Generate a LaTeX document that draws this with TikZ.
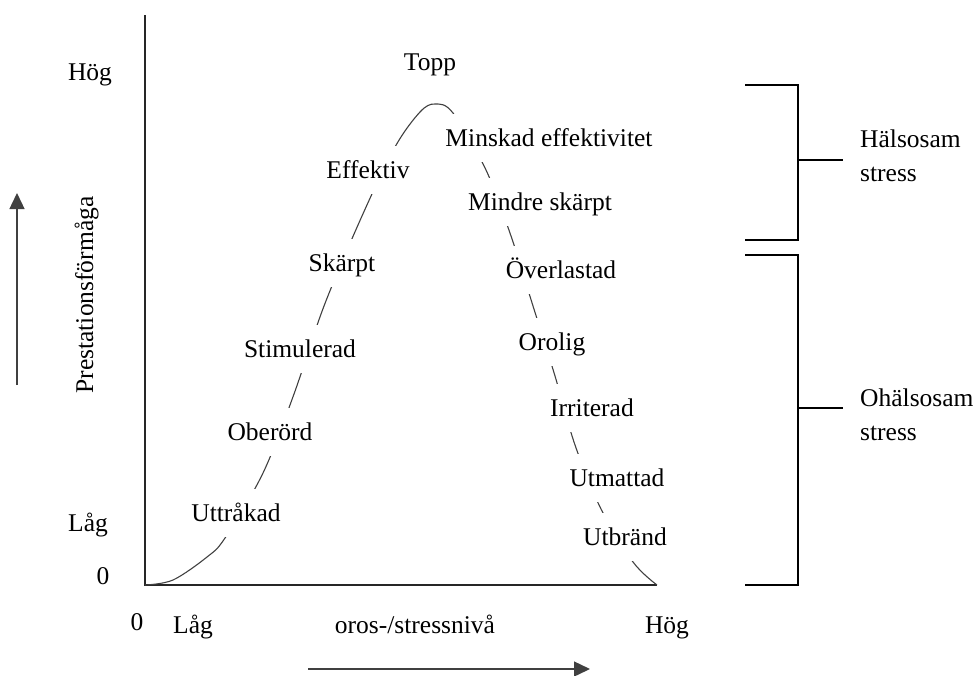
\documentclass[tikz,border=0pt]{standalone}
\usepackage{fontspec}
\setmainfont{Liberation Serif}
\usetikzlibrary{arrows.meta}
\tikzset{
  txt/.style={font=\fontsize{25.5}{34}\selectfont, text height=20pt, text depth=4pt, inner sep=0pt},
  stage/.style={txt, fill=white, minimum height=48pt, inner xsep=3pt},
  axis/.style={line width=1.4pt, draw=black!85},
  dir/.style={line width=1.4pt, draw=black!75, -{Triangle[length=16pt,width=15pt]}},
}
\begin{document}
\begin{tikzpicture}[x=1pt,y=-1pt]
\useasboundingbox (0,0) rectangle (976,675);
\draw[axis] (145,15) -- (145,585) -- (657,585);
\draw[line width=1.1pt, draw=black!75] plot[smooth, tension=0.55] coordinates {(145,585) (173,580) (207,557) (225,538) (263,473) (294,394) (324,306) (362,216) (395,147) (420,112) (435,104) (453,113) (486,170) (511,236) (533,306) (555,376) (575,445) (601,509) (633,562) (657,585)};
\node[stage] (uttrakad) at (236,513) {Uttråkad};
\node[stage] (oberord) at (270,432) {Oberörd};
\node[stage] (stimulerad) at (300,349) {Stimulerad};
\node[stage] (skarpt) at (342,263) {Skärpt};
\node[stage] (effektiv) at (368,170) {Effektiv};
\node[stage] (minskad) at (549,138) {Minskad effektivitet};
\node[stage] (mindre) at (540,202) {Mindre skärpt};
\node[stage] (overlastad) at (561,270) {Överlastad};
\node[stage] (orolig) at (552,342) {Orolig};
\node[stage] (irriterad) at (592,408) {Irriterad};
\node[stage] (utmattad) at (617,478) {Utmattad};
\node[stage] (utbrand) at (625,537) {Utbränd};
\node[txt] (topp) at (430,62) {Topp};
\node[txt] (hog) at (90,72) {Hög};
\node[txt] (lag) at (88,523) {Låg};
\node[txt] (noll) at (103,576) {0};
\node[txt] (xnoll) at (137,622) {0};
\node[txt] (xlag) at (193,625) {Låg};
\node[txt] (niva) at (415,625) {oros-/stressnivå};
\node[txt] (xhog) at (667,625) {Hög};
\node[txt, rotate=90] (prestation) at (85,295) {Prestationsförmåga};
\coordinate (upstart) at (17,385);
\coordinate (upend) at (17,193);
\draw[dir] (upstart) -- (upend);
\coordinate (rightstart) at (308,669);
\coordinate (rightend) at (590,669);
\draw[dir] (rightstart) -- (rightend);
\draw[line width=1.3pt] (745,85) -| (798,240) -- (745,240);
\draw[line width=1.3pt] (745,255) -| (798,585) -- (745,585);
\node[txt, anchor=west, align=left, text height=, text depth=] (halsosam) at (860,156) {Hälsosam\\stress};
\node[txt, anchor=west, align=left, text height=, text depth=] (ohalsosam) at (860,415) {Ohälsosam\\stress};
\draw[line width=1.3pt] (798,160) -- (843,160);
\draw[line width=1.3pt] (798,408) -- (843,408);
\end{tikzpicture}
\end{document}
